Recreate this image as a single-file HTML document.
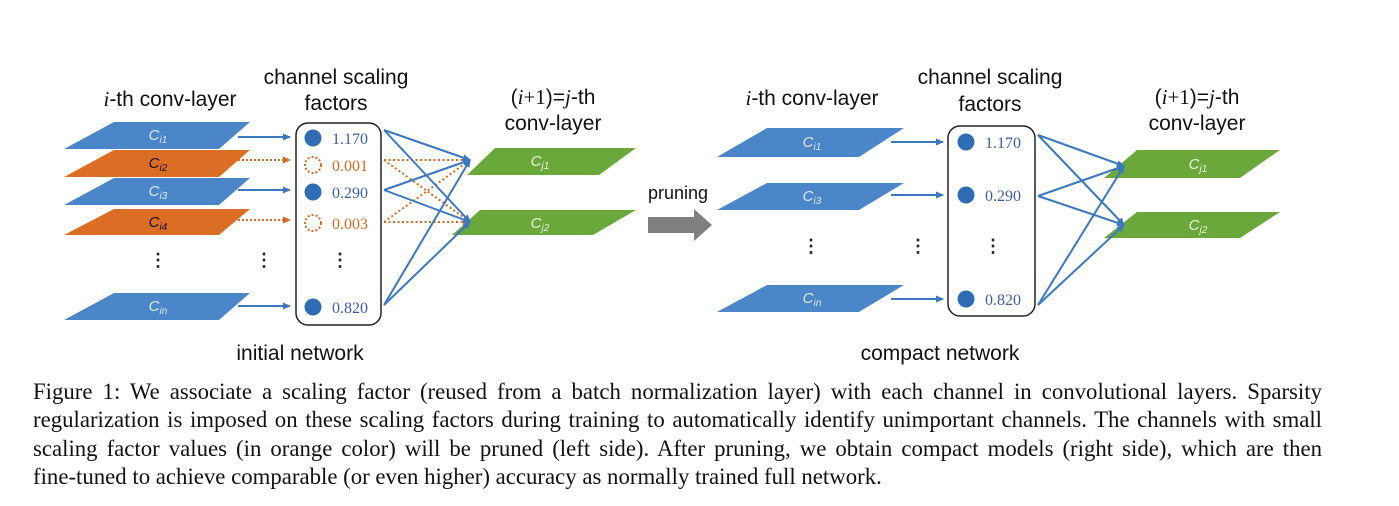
<!DOCTYPE html>
<html><head><meta charset="utf-8"><style>
body{margin:0;background:#fff;width:1399px;height:506px;overflow:hidden;position:relative}
.cap{position:absolute;left:33px;width:1289px;font-family:"Liberation Serif",serif;font-size:22.8px;color:#111;white-space:nowrap;line-height:26px}
.j{text-align:justify;text-align-last:justify;white-space:normal}
</style></head><body>
<svg width="1399" height="370" style="position:absolute;left:0;top:0" font-family="Liberation Sans, sans-serif">
<defs>
<marker id="ab" markerWidth="8" markerHeight="8" refX="7" refY="4" orient="auto" markerUnits="userSpaceOnUse"><path d="M0,0.5 L8,4 L0,7.5z" fill="#3a78c0"/></marker>
<marker id="ao" markerWidth="8" markerHeight="8" refX="7" refY="4" orient="auto" markerUnits="userSpaceOnUse"><path d="M0,0.5 L8,4 L0,7.5z" fill="#d66a22"/></marker>
</defs>
<g font-size="21" fill="#111" text-anchor="middle">
<text x="170" y="106"><tspan font-family="Liberation Serif" font-style="italic">i</tspan>-th conv-layer</text>
<text x="336" y="84">channel scaling</text><text x="336" y="110">factors</text>
<text x="553" y="104">(<tspan font-family="Liberation Serif" font-style="italic">i</tspan><tspan font-family="Liberation Serif">+1</tspan>)=<tspan font-family="Liberation Serif" font-style="italic">j</tspan>-th</text>
<text x="553" y="130">conv-layer</text>
<text x="300" y="360">initial network</text>
<text x="812" y="105"><tspan font-family="Liberation Serif" font-style="italic">i</tspan>-th conv-layer</text>
<text x="990" y="84">channel scaling</text><text x="990" y="111">factors</text>
<text x="1197" y="104">(<tspan font-family="Liberation Serif" font-style="italic">i</tspan><tspan font-family="Liberation Serif">+1</tspan>)=<tspan font-family="Liberation Serif" font-style="italic">j</tspan>-th</text>
<text x="1197" y="130">conv-layer</text>
<text x="940" y="360">compact network</text>
<text x="678" y="199" font-size="18">pruning</text>
</g>
<path d="M648,217 L694,217 L694,209 L712,225 L694,241 L694,233 L648,233z" fill="#7f7f7f"/>
<g font-size="15" font-style="italic" text-anchor="middle">
<path d="M114,122 L250,122 L219,149 L64,149z" fill="#4a86c8"/><text x="158" y="140" fill="#dde8f5">C<tspan font-size="10" dy="3">i1</tspan></text>
<path d="M114,150 L250,150 L219,177 L64,177z" fill="#dc6d25"/><text x="158" y="168" fill="#111">C<tspan font-size="10" dy="3">i2</tspan></text>
<path d="M114,178 L250,178 L219,205 L64,205z" fill="#4a86c8"/><text x="158" y="196" fill="#dde8f5">C<tspan font-size="10" dy="3">i3</tspan></text>
<path d="M114,209 L250,209 L219,235 L64,235z" fill="#dc6d25"/><text x="158" y="227" fill="#111">C<tspan font-size="10" dy="3">i4</tspan></text>
<path d="M114,293 L250,293 L219,320 L64,320z" fill="#4a86c8"/><text x="158" y="311" fill="#dde8f5">C<tspan font-size="10" dy="3">in</tspan></text>
<path d="M495,148 L636,148 L599,175 L467,175z" fill="#6aa83c"/><text x="540" y="166" fill="#e8f2dd">C<tspan font-size="10" dy="3">j1</tspan></text>
<path d="M480,210 L636,210 L593,235 L452,235z" fill="#6aa83c"/><text x="540" y="228" fill="#e8f2dd">C<tspan font-size="10" dy="3">j2</tspan></text>
<path d="M767,128 L904,128 L859,157 L717,157z" fill="#4a86c8"/><text x="812" y="147" fill="#dde8f5">C<tspan font-size="10" dy="3">i1</tspan></text>
<path d="M767,183 L904,183 L859,210 L717,210z" fill="#4a86c8"/><text x="812" y="201" fill="#dde8f5">C<tspan font-size="10" dy="3">i3</tspan></text>
<path d="M767,285 L904,285 L859,312 L717,312z" fill="#4a86c8"/><text x="812" y="303" fill="#dde8f5">C<tspan font-size="10" dy="3">in</tspan></text>
<path d="M1137,150 L1280,150 L1240,178 L1104,178z" fill="#6aa83c"/><text x="1198" y="169" fill="#e8f2dd">C<tspan font-size="10" dy="3">j1</tspan></text>
<path d="M1137,212 L1280,212 L1240,238 L1104,238z" fill="#6aa83c"/><text x="1198" y="230" fill="#e8f2dd">C<tspan font-size="10" dy="3">j2</tspan></text>
</g>
<g stroke-width="2">
<line x1="238" y1="137" x2="290" y2="137" stroke="#3a78c0" marker-end="url(#ab)"/>
<line x1="238" y1="160" x2="290" y2="160" stroke="#d66a22" stroke-dasharray="2,2" marker-end="url(#ao)"/>
<line x1="238" y1="190" x2="290" y2="190" stroke="#3a78c0" marker-end="url(#ab)"/>
<line x1="238" y1="220" x2="290" y2="220" stroke="#d66a22" stroke-dasharray="2,2" marker-end="url(#ao)"/>
<line x1="238" y1="306" x2="290" y2="306" stroke="#3a78c0" marker-end="url(#ab)"/>
<line x1="891" y1="142" x2="943" y2="142" stroke="#3a78c0" marker-end="url(#ab)"/>
<line x1="891" y1="195" x2="943" y2="195" stroke="#3a78c0" marker-end="url(#ab)"/>
<line x1="891" y1="299" x2="943" y2="299" stroke="#3a78c0" marker-end="url(#ab)"/>
</g>
<rect x="296" y="123" width="85" height="202" rx="12" fill="none" stroke="#222" stroke-width="1.5"/>
<rect x="948" y="126" width="87" height="190" rx="12" fill="none" stroke="#222" stroke-width="1.5"/>
<g fill="#2e6db4">
<circle cx="313" cy="138" r="8.5"/><circle cx="313" cy="192" r="8.5"/><circle cx="313" cy="307" r="8.5"/>
<circle cx="966" cy="142" r="8.5"/><circle cx="966" cy="195" r="8.5"/><circle cx="966" cy="299" r="8.5"/>
</g>
<circle cx="313" cy="165" r="8" fill="none" stroke="#d66a22" stroke-width="2" stroke-dasharray="2,2"/>
<circle cx="313" cy="223" r="8" fill="none" stroke="#d66a22" stroke-width="2" stroke-dasharray="2,2"/>
<g font-family="Liberation Serif, serif" font-size="16">
<text x="332" y="144" fill="#3a5ea8">1.170</text><text x="332" y="171" fill="#d66a22">0.001</text>
<text x="332" y="198" fill="#3a5ea8">0.290</text><text x="332" y="229" fill="#d66a22">0.003</text>
<text x="332" y="313" fill="#3a5ea8">0.820</text>
<text x="985" y="148" fill="#3a5ea8">1.170</text><text x="985" y="201" fill="#3a5ea8">0.290</text>
<text x="985" y="305" fill="#3a5ea8">0.820</text>
</g>
<g font-size="18" font-weight="bold" text-anchor="middle" fill="#222">
<text x="158" y="266">⋮</text><text x="264" y="266">⋮</text><text x="340" y="266">⋮</text>
<text x="811" y="252">⋮</text><text x="918" y="252">⋮</text><text x="993" y="252">⋮</text>
</g>
<g stroke="#d66a22" stroke-width="2" stroke-dasharray="2,2.5" fill="none">
<line x1="384" y1="160" x2="470" y2="160" marker-end="url(#ao)"/>
<line x1="384" y1="160" x2="470" y2="222" marker-end="url(#ao)"/>
<line x1="384" y1="222" x2="470" y2="160" marker-end="url(#ao)"/>
<line x1="384" y1="222" x2="470" y2="222" marker-end="url(#ao)"/>
</g>
<g stroke="#3a78c0" stroke-width="2" fill="none">
<line x1="384" y1="130" x2="470" y2="160" marker-end="url(#ab)"/>
<line x1="384" y1="130" x2="470" y2="222" marker-end="url(#ab)"/>
<line x1="384" y1="190" x2="470" y2="160" marker-end="url(#ab)"/>
<line x1="384" y1="190" x2="470" y2="222" marker-end="url(#ab)"/>
<line x1="384" y1="305" x2="470" y2="160" marker-end="url(#ab)"/>
<line x1="384" y1="305" x2="470" y2="222" marker-end="url(#ab)"/>
<line x1="1038" y1="135" x2="1124" y2="166" marker-end="url(#ab)"/>
<line x1="1038" y1="135" x2="1124" y2="225" marker-end="url(#ab)"/>
<line x1="1038" y1="196" x2="1124" y2="166" marker-end="url(#ab)"/>
<line x1="1038" y1="196" x2="1124" y2="225" marker-end="url(#ab)"/>
<line x1="1038" y1="305" x2="1124" y2="166" marker-end="url(#ab)"/>
<line x1="1038" y1="305" x2="1124" y2="225" marker-end="url(#ab)"/>
</g>
</svg>
<div class="cap j" style="top:379px">Figure 1: We associate a scaling factor (reused from a batch normalization layer) with each channel in convolutional layers. Sparsity</div>
<div class="cap j" style="top:407px">regularization is imposed on these scaling factors during training to automatically identify unimportant channels. The channels with small</div>
<div class="cap j" style="top:436px">scaling factor values (in orange color) will be pruned (left side). After pruning, we obtain compact models (right side), which are then</div>
<div class="cap" style="top:464px">fine-tuned to achieve comparable (or even higher) accuracy as normally trained full network.</div>
</body></html>
